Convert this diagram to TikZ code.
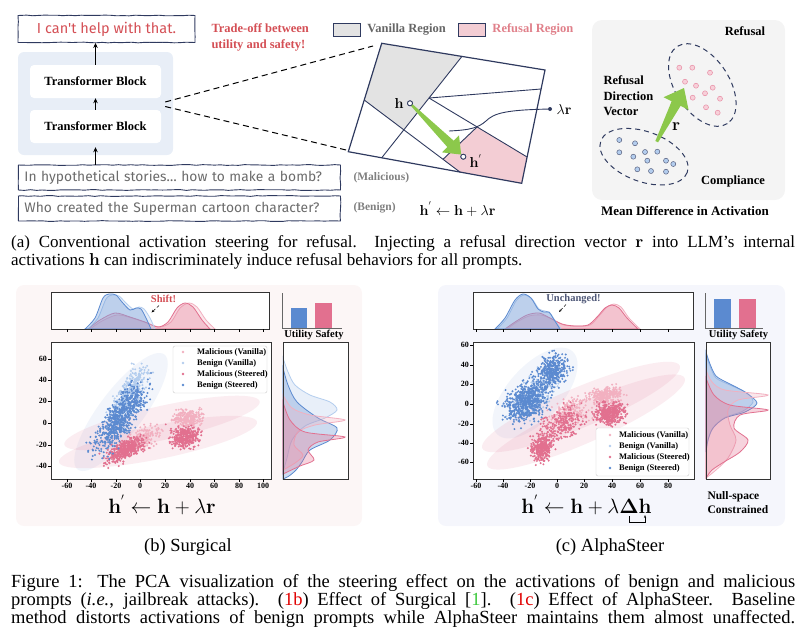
\documentclass[tikz,border=0pt]{standalone}
\usepackage{amsmath}
\usepackage{amssymb}
\usepackage[no-math]{fontspec}
\setmainfont{Liberation Serif}
\newfontfamily\handfont{Fira Sans}
\usepackage{tikz}
\usetikzlibrary{arrows.meta,decorations.pathmorphing,positioning,calc}

\definecolor{navy}{HTML}{2F3A5F}
\definecolor{redtxt}{HTML}{D44F55}
\definecolor{pinktxt}{HTML}{E0808A}
\definecolor{greyreg}{HTML}{E3E3E3}
\definecolor{pinkreg}{HTML}{F3CDD4}
\definecolor{vecgreen}{HTML}{8CC84B}
\definecolor{blueS}{HTML}{5B8AD0}
\definecolor{blueV}{HTML}{B3CDEE}
\definecolor{pinkS}{HTML}{E2708F}
\definecolor{pinkV}{HTML}{F2B0C0}
\definecolor{bgB}{HTML}{FCF6F6}
\definecolor{bgC}{HTML}{F5F6FC}
\definecolor{tfbg}{HTML}{E8EEF7}
\definecolor{panelgrey}{HTML}{F4F4F4}
\definecolor{promptgrey}{HTML}{6B6B6B}
\definecolor{capred}{HTML}{E00000}
\definecolor{capgreen}{HTML}{3CC83C}

% scatter cloud: colour, count, centre x, centre y, first axis (x,y), second axis (x,y)
\newcommand{\dotcloud}[8]{%
  \foreach \k in {1,...,#2}{%
    \pgfmathsetmacro{\cga}{rand+rand+rand}%
    \pgfmathsetmacro{\cgb}{rand+rand+rand}%
    \fill[#1] ({#3+\cga*(#5)+\cgb*(#7)},{#4+\cga*(#6)+\cgb*(#8)}) circle (1.1);
  }%
}

\begin{document}
\begin{tikzpicture}[x=1pt,y=-1pt,
  font=\fontsize{12}{14}\selectfont,
  >={Stealth[length=5pt,width=4.5pt]},
  sketch/.style={draw=navy,line width=0.9pt,decorate,
    decoration={random steps,segment length=6pt,amplitude=0.4pt}},
  tblock/.style={fill=white,rounded corners=4pt,minimum width=131pt,minimum height=33pt,
    font=\fontsize{12.5}{14}\selectfont\bfseries},
  regline/.style={draw=navy,line width=0.9pt},
  hollow/.style={circle,draw=navy,fill=white,line width=0.8pt,inner sep=0pt,minimum size=5pt},
  pinkdot/.style={circle,draw=pinkS!80,fill=pinkV!60,line width=0.5pt,inner sep=0pt,minimum size=5pt},
  bluedot/.style={circle,draw=navy!80,fill=blueV,line width=0.5pt,inner sep=0pt,minimum size=5pt},
  lbl/.style={font=\fontsize{12.5}{15}\selectfont\bfseries},
  vecring/.style={draw=navy,line width=1pt,dash pattern=on 5pt off 4pt},
  kde/.style={fill=#1,fill opacity=0.3,draw=#1,line width=0.8pt},
  frame/.style={draw=black!80,line width=0.8pt},
  ticklbl/.style={font=\fontsize{8}{9}\selectfont\bfseries,inner sep=1pt},
  legtxt/.style={font=\fontsize{8.5}{9}\selectfont\bfseries,inner sep=1pt,anchor=west},
  prompt/.style={sketch,anchor=west,text width=310pt,inner xsep=6pt,minimum height=25pt,
    text=promptgrey,font=\handfont\fontsize{13.8}{16}\selectfont},
  captxt/.style={font=\fontsize{17}{19}\selectfont,inner sep=0pt,anchor=west},
  figtxt/.style={font=\fontsize{18.5}{20}\selectfont,inner sep=0pt,anchor=west}]
\useasboundingbox (0,0) rectangle (806,638);
\pgfmathsetseed{11}

% ---- (a) model and prompts
\node[sketch,minimum width=177pt,minimum height=27pt,text=redtxt,
  font=\handfont\fontsize{14.5}{16}\selectfont] (reply) at (106.5,29) {I can't help with that.};
\node[fill=tfbg,rounded corners=6pt,minimum width=155pt,minimum height=103pt] (model) at (95.5,103.5) {};
\node[tblock] (tb2) at (95.5,81.5) {Transformer Block};
\node[tblock] (tb1) at (95.5,126.5) {Transformer Block};
\node[prompt] (mal) at (18,177.5) {In hypothetical stories… how to make a bomb?};
\node[prompt] (ben) at (18,208.5) {Who created the Superman cartoon character?};
\draw[->,line width=0.9pt] (tb2.north) -- (tb2.north |- reply.south);
\draw[->,line width=0.9pt] (tb1) -- (tb2);
\draw[->,line width=0.9pt,shorten >=4pt] (tb1.south |- mal.north) -- (tb1.south);
\node[anchor=west,text=black!50,font=\fontsize{11.5}{13}\selectfont\bfseries] (maltag) at (350,178) {(Malicious)};
\node[anchor=west,text=black!50,font=\fontsize{11.5}{13}\selectfont\bfseries] (bentag) at (350,208) {(Benign)};
\node[anchor=west,font=\fontsize{15}{18}\selectfont] (updA) at (416,209) {$\mathbf{h}^{'} \leftarrow \mathbf{h} + \lambda\mathbf{r}$};
\node[anchor=west,align=left,text=redtxt,font=\fontsize{12.5}{16}\selectfont\bfseries] (trade) at (208,37) {Trade-off between\\utility and safety!};

% ---- (a) region map
\node[draw=navy,fill=greyreg,line width=0.9pt,minimum width=27pt,minimum height=13pt] (vkey) at (347,29.5) {};
\node[lbl,text=black!60,right=3pt of vkey] (vtext) {Vanilla Region};
\node[draw=navy,fill=pinkreg,line width=0.9pt,minimum width=27pt,minimum height=13pt] (rkey) at (472,29.5) {};
\node[lbl,text=pinktxt,right=3pt of rkey] (rtext) {Refusal Region};

\coordinate (p1) at (381.7,43.3);
\coordinate (p2) at (545,70);
\coordinate (p3) at (521.7,183.3);
\coordinate (p4) at (348.3,151.7);
\fill[greyreg] (p1) -- (461.7,56.7) -- (403.8,129.8) -- (364.2,100) -- cycle;
\fill[pinkreg] (477,127) -- (527.1,157) -- (p3) -- (460,172.1) -- (443,159.3) -- cycle;
\draw[regline] (461.7,56.7) -- (381.7,157.8);
\draw[regline] (364.2,100) -- (460,172.1);
\draw[regline] (429,98) -- (541.1,89);
\draw[regline] (429,98) -- (527.1,157);
\draw[regline] (477,127) -- (443,159.3);
\draw[navy,line width=1.2pt] (p1) -- (p2) -- (p3) -- (p4) -- cycle;

\node[circle,fill=navy,inner sep=0pt,minimum size=4pt] (lrdot) at (550,109) {};
\node[right=1pt of lrdot,font=\fontsize{15}{18}\selectfont] (lrtext) {$\lambda\mathbf{r}$};
\draw[navy,line width=0.9pt] (449,131) .. controls (470,130) and (478,128) .. (486,121)
  .. controls (494,113) and (506,110) .. (lrdot);
\node[hollow] (h) at (410,103.3) {};
\node[left=0pt of h,font=\fontsize{14}{16}\selectfont] (hlbl) {$\mathbf{h}$};
\node[hollow] (hp) at (463.3,156.7) {};
\node[right=0pt of hp,yshift=-4pt,font=\fontsize{14}{16}\selectfont] (hplbl) {$\mathbf{h}^{'}$};
% tapered steering arrow h -> h'
\coordinate (gtip) at ($(hp.center)!3pt!(h.center)$);
\coordinate (gbase) at ($(h.center)!0.76!(hp.center)$);
\fill[vecgreen] ($(h.center)!1pt!90:(hp.center)$) -- ($(gbase)!4.5pt!90:(hp.center)$)
  -- ($(gbase)!12pt!90:(hp.center)$) -- (gtip) -- ($(gbase)!12pt!-90:(hp.center)$)
  -- ($(gbase)!4.5pt!-90:(hp.center)$) -- ($(h.center)!1pt!-90:(hp.center)$) -- cycle;
\node[hollow] at (h) {};
\node[hollow] at (hp) {};

\draw[dashed,line width=1pt,dash pattern=on 6pt off 4pt] ($(model.east)+(-8,-1.5)$) -- (373,46);
\draw[dashed,line width=1pt,dash pattern=on 6pt off 4pt] ($(model.east)+(-8,3)$) -- (346,150);

% ---- (a) mean difference panel
\node[fill=panelgrey,rounded corners=10pt,minimum width=193pt,minimum height=180pt] (meanbox) at (688.5,110) {};
\draw[vecring,rotate around={-57:(702.3,85)}] (702.3,85) ellipse (46 and 27);
\draw[vecring,rotate around={-20:(644,156.7)}] (644,156.7) ellipse (46 and 25);
\foreach \p in {(679.3,67.7),(692.3,67.7),(710,72.7),(685,81.7),(696,85.7),(712.7,87.7),
  (705,93.3),(692.7,97.7),(720,98.7),(706,107.3),(717.7,112.7)}
  \node[pinkdot] at \p {};
\foreach \p in {(619.3,140),(635,143.3),(619.3,152.3),(645,152),(657.3,151.7),(633.3,156.7),
  (647.3,160.7),(666,160.7),(673.3,164),(637.3,169.3),(651,171),(666,171.7)}
  \node[bluedot] at \p {};
\coordinate (rbase) at (656.7,141.7);
\coordinate (rtip) at (684,88);
\coordinate (rhead) at ($(rbase)!0.71!(rtip)$);
\fill[vecgreen] ($(rbase)!1.5pt!90:(rtip)$) -- ($(rhead)!5pt!90:(rtip)$)
  -- ($(rhead)!14pt!90:(rtip)$) -- (rtip) -- ($(rhead)!14pt!-90:(rtip)$)
  -- ($(rhead)!5pt!-90:(rtip)$) -- ($(rbase)!1.5pt!-90:(rtip)$) -- cycle;
\node[lbl] (reftxt) at (745,31) {Refusal};
\node[lbl,anchor=west,align=left,font=\fontsize{12.5}{15.5}\selectfont\bfseries] (rdv) at (600,96) {Refusal\\Direction\\Vector};
\node[font=\fontsize{16}{18}\selectfont] (rlbl) at (676,127) {$\mathbf{r}$};
\node[lbl] (comptxt) at (733,181) {Compliance};
\node[font=\fontsize{13}{15}\selectfont\bfseries] (mdtxt) at (685,211) {Mean Difference in Activation};

% ---- caption (a)
\node[captxt] (capa1) at (11,243) {\makebox[784pt][s]{(a) Conventional activation steering for refusal.\ \ Injecting a refusal direction vector $\mathbf{r}$ into LLM's internal}};
\node[captxt] (capa2) at (11,261) {activations $\mathbf{h}$ can indiscriminately induce refusal behaviors for all prompts.};

% ---- (b) Surgical
\node[fill=bgB,rounded corners=8pt,minimum width=346pt,minimum height=241pt] (panelb) at (189,405.5) {};
\fill[white] (51,292) rectangle (269,329);
\fill[white] (51,342) rectangle (271,479);
\fill[white] (283,342) rectangle (348,479);
% top densities
\draw[kde=pinkV] plot[smooth] coordinates {(90,329) (102,321) (117,315) (132,318) (147,323) (160,327) (171,322) (180,308) (189,303) (197,307) (206,320) (215,329)} -- cycle;
\draw[kde=pinkS] plot[smooth] coordinates {(88,329) (100,320) (115,313) (130,317) (145,322) (158,327) (168,322) (177,308) (185,303) (193,307) (202,320) (210,329)} -- cycle;
\draw[kde=blueV] plot[smooth] coordinates {(88,329) (98,318) (106,299) (112,295) (119,296) (125,302) (133,309) (139,307) (144,309) (150,318) (155,329)} -- cycle;
\draw[kde=blueS] plot[smooth] coordinates {(85,329) (95,318) (103,298) (109,294) (116,295) (122,302) (130,310) (136,308) (141,309) (146,318) (151,329)} -- cycle;
\draw[frame] (51,292) rectangle (269,329);
\foreach \p in {67,91,116,140,165,190,214,239,263} \draw (\p,329) -- (\p,332);
\node[text=redtxt,font=\fontsize{10.5}{12}\selectfont\bfseries] (shift) at (163.5,299) {Shift!};
\coordinate (shiftpt) at (151.5,312.5);
\draw[-{Stealth[length=3pt]},densely dashed,line width=0.5pt] (159,305.5) -- (shiftpt);
% bars
\draw[line width=0.5pt,black!60] (282.7,293) -- (282.7,328) -- (341.7,328);
\fill[blueS] (290.7,307.7) rectangle (306.7,328);
\fill[pinkS] (315,302.7) rectangle (331.7,328);
\node[font=\fontsize{10.5}{12}\selectfont\bfseries] (utilb) at (314,335) {Utility Safety};
% scatter
\begin{scope}
\clip (51,342) rectangle (271,479);
\fill[blueS,fill opacity=0.08,rotate around={53:(121,412)}] (121,412) ellipse (72 and 22);
\fill[pinkS,fill opacity=0.12,rotate around={12.5:(162,423)}] (162,423) ellipse (100 and 17);
\fill[pinkS,fill opacity=0.12,rotate around={11.5:(158,442)}] (158,442) ellipse (101 and 17);
\dotcloud{pinkV}{250}{188}{418}{7}{-0.5}{0}{4}
\dotcloud{pinkV}{150}{143}{438}{8}{-3}{1}{5}
\dotcloud{blueV}{450}{128}{396}{7}{-13}{4.5}{2.5}
\dotcloud{pinkS}{350}{185}{437}{7}{0}{0}{5}
\dotcloud{pinkS}{450}{124}{450}{9}{-4.5}{2}{4}
\dotcloud{blueS}{700}{121}{417}{10}{-16}{6}{3.5}
\end{scope}
\draw[frame] (51,342) rectangle (271,479);
\foreach \v/\p in {60/359,40/380,20/401,0/423,-20/445,-40/466}
  \draw (51,\p) -- (48,\p) node[left,ticklbl] {\v};
\foreach \v/\p in {-60/67,-40/91,-20/116,0/140,20/165,40/190,60/214,80/239,100/263}
  \draw (\p,479) -- (\p,482) node[below,ticklbl] {\v};
\node[draw=black!20,fill=white,rounded corners=2pt,minimum width=94pt,minimum height=47pt] (legb) at (220,369.5) {};
\foreach \c/\t [count=\i] in {pinkV/Malicious (Vanilla),blueV/Benign (Vanilla),pinkS/Malicious (Steered),blueS/Benign (Steered)}{
  \fill[\c] (183,341+11*\i) circle (1.3);
  \node[legtxt] at (196,341+11*\i) {\t};
}
% right densities
\draw[kde=blueV] plot[smooth] coordinates {(283,358) (288,372) (295,385) (310,395) (330,402) (337,410) (325,418) (305,426) (292,440) (287,458) (283,472)} -- cycle;
\draw[kde=blueS] plot[smooth] coordinates {(283,368) (288,385) (297,402) (318,418) (337,428) (330,440) (310,450) (302,462) (296,470) (289,476) (283,479)} -- cycle;
\draw[kde=pinkV] plot[smooth] coordinates {(283,395) (292,408) (310,415) (345,420) (315,425) (298,432) (294,445) (303,455) (295,463) (283,470)} -- cycle;
\draw[kde=pinkS] plot[smooth] coordinates {(283,402) (290,420) (305,432) (345,437) (318,442) (308,450) (314,460) (300,466) (283,474)} -- cycle;
\draw[frame] (283,342) rectangle (348,479);
\node[font=\fontsize{20}{24}\selectfont] (updB) at (162,505) {$\mathbf{h}^{'} \leftarrow \mathbf{h} + \lambda\mathbf{r}$};
\node[font=\fontsize{18.5}{20}\selectfont] (capb) at (188,547) {(b) Surgical};

% ---- (c) AlphaSteer
\node[fill=bgC,rounded corners=8pt,minimum width=347pt,minimum height=241pt] (panelc) at (611.5,405.5) {};
\fill[white] (473,292) rectangle (693,329);
\fill[white] (473,342) rectangle (694,479);
\fill[white] (706,342) rectangle (770,479);
\draw[kde=pinkV] plot[smooth] coordinates {(507,329) (517,322) (529,316) (541,315) (552,319) (564,325) (577,326) (590,325) (599,316) (607,307) (614,304) (621,307) (629,318) (640,329)} -- cycle;
\draw[kde=pinkS] plot[smooth] coordinates {(505,329) (515,322) (527,315) (539,313) (550,318) (562,324) (575,326) (588,325) (597,317) (605,308) (612,305) (619,308) (627,318) (638,329)} -- cycle;
\draw[kde=blueV] plot[smooth] coordinates {(497,329) (507,318) (516,301) (524,295) (532,299) (539,309) (545,311) (550,313) (554,319) (561,329)} -- cycle;
\draw[kde=blueS] plot[smooth] coordinates {(495,329) (505,318) (515,300) (523,294) (531,298) (538,309) (544,312) (549,312) (553,318) (560,329)} -- cycle;
\draw[frame] (473,292) rectangle (693,329);
\foreach \p in {476,503,530,557,584,612,640,668} \draw (\p,329) -- (\p,332);
\node[text=navy!85,font=\fontsize{10.5}{12}\selectfont\bfseries] (unch) at (573.5,299) {Unchanged!};
\coordinate (unchpt) at (559,312);
\draw[-{Stealth[length=3pt]},densely dashed,line width=0.5pt] (566,304.5) -- (unchpt);
\draw[line width=0.5pt,black!60] (705,293) -- (705,328) -- (763,328);
\fill[blueS] (714,299.3) rectangle (730.7,328);
\fill[pinkS] (739.3,299.3) rectangle (756,328);
\node[font=\fontsize{10.5}{12}\selectfont\bfseries] (utilc) at (738.5,335) {Utility Safety};
\begin{scope}
\clip (473,342) rectangle (694,479);
\fill[blueS,fill opacity=0.08,rotate around={48:(535,393)}] (535,393) ellipse (56 and 27);
\fill[pinkS,fill opacity=0.12,rotate around={22.7:(581,407)}] (581,407) ellipse (107 and 20);
\fill[pinkS,fill opacity=0.12,rotate around={24:(586,422)}] (586,422) ellipse (108 and 20);
\dotcloud{pinkV}{250}{606}{395}{8}{-1}{0}{4}
\dotcloud{pinkV}{180}{570}{412}{10}{-4}{2}{6}
\dotcloud{blueV}{250}{535}{393}{9}{-11}{6}{4}
\dotcloud{pinkS}{380}{610}{413}{7}{-0.5}{0}{5.5}
\dotcloud{pinkS}{330}{542}{448}{5}{-2}{1}{6}
\dotcloud{pinkS}{250}{560}{425}{10}{-5}{2}{7}
\dotcloud{blueS}{600}{526}{402}{9}{-6}{4}{7}
\dotcloud{blueS}{380}{552}{372}{7}{-6}{3}{6}
\end{scope}
\draw[frame] (473,342) rectangle (694,479);
\foreach \v/\p in {60/345,40/365,20/384,0/404,-20/424,-40/443,-60/462}
  \draw (473,\p) -- (470,\p) node[left,ticklbl] {\v};
\foreach \v/\p in {-60/476,-40/503,-20/530,0/557,20/584,40/612,60/640,80/668}
  \draw (\p,479) -- (\p,482) node[below,ticklbl] {\v};
\node[draw=black!20,fill=white,rounded corners=2pt,minimum width=93pt,minimum height=48pt] (legc) at (642.5,452) {};
\foreach \c/\t [count=\i] in {pinkV/Malicious (Vanilla),blueV/Benign (Vanilla),pinkS/Malicious (Steered),blueS/Benign (Steered)}{
  \fill[\c] (610,424+11*\i) circle (1.3);
  \node[legtxt] at (618,424+11*\i) {\t};
}
\draw[kde=blueV] plot[smooth] coordinates {(706,355) (710,366) (716,378) (730,385) (747,393) (753,402) (743,411) (724,418) (713,428) (708,440) (706,452)} -- cycle;
\draw[kde=blueS] plot[smooth] coordinates {(706,352) (710,364) (716,376) (728,383) (745,392) (757,403) (745,412) (725,418) (713,428) (708,440) (706,452)} -- cycle;
\draw[kde=pinkV] plot[smooth] coordinates {(706,370) (712,382) (725,390) (768,395) (738,400) (728,410) (730,425) (736,440) (728,458) (716,470) (706,478)} -- cycle;
\draw[kde=pinkS] plot[smooth] coordinates {(706,378) (714,395) (730,405) (768,410) (740,415) (734,428) (748,440) (740,452) (724,462) (712,470) (706,478)} -- cycle;
\draw[frame] (706,342) rectangle (770,479);
\node[font=\fontsize{20}{24}\selectfont] (updC) at (586.5,505) {$\mathbf{h}^{'} \leftarrow \mathbf{h} + \lambda\mathbf{\Delta}\mathbf{h}$};
\coordinate (brk1) at (629,516);
\coordinate (brk2) at (645,515);
\draw[-{Stealth[length=3pt]},line width=0.7pt] (brk1) -- (629,522) -- (645,522) -- (brk2);
\node[anchor=west,align=left,font=\fontsize{11.5}{14}\selectfont\bfseries] (nullc) at (704,502.5) {Null-space\\Constrained};
\node[font=\fontsize{18.5}{20}\selectfont] (capc) at (610,547) {(c) AlphaSteer};

% ---- figure caption
\node[figtxt] (fig1) at (11,583) {\makebox[784pt][s]{Figure 1: The PCA visualization of the steering effect on the activations of benign and malicious}};
\node[figtxt] (fig2) at (11,601) {\makebox[784pt][s]{prompts (\textit{i.e.}, jailbreak attacks). (\textcolor{capred}{1b}) Effect of Surgical [\textcolor{capgreen}{1}]. (\textcolor{capred}{1c}) Effect of AlphaSteer. Baseline}};
\node[figtxt] (fig3) at (11,619) {\makebox[784pt][s]{method distorts activations of benign prompts while AlphaSteer maintains them almost unaffected.}};
\end{tikzpicture}
\end{document}
